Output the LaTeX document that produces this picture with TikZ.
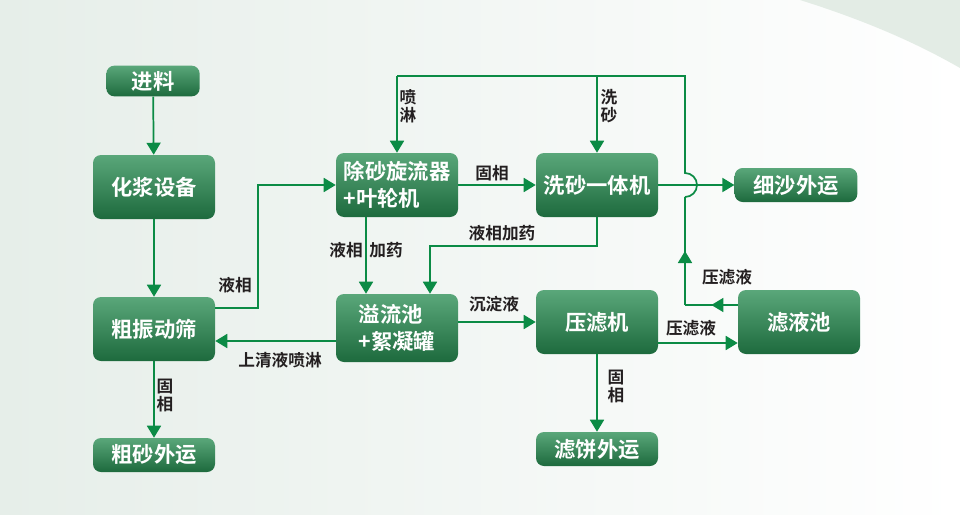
\documentclass[tikz,border=0pt]{standalone}
\usepackage{fontspec}
\setmainfont{Noto Sans CJK SC}[BoldFont={Noto Sans CJK SC Bold}]
\usetikzlibrary{arrows.meta,decorations.markings}

\definecolor{boxtop}{HTML}{5AA77A}
\definecolor{boxbot}{HTML}{1D6A3D}
\definecolor{flowgreen}{HTML}{0B8B45}
\definecolor{bgleft}{HTML}{E6EEE9}
\definecolor{bgcorner}{HTML}{E3ECE5}
\definecolor{labeltext}{HTML}{231F20}

\tikzset{
	box/.style={rounded corners=6pt, top color=boxtop, bottom color=boxbot, text=white,
		font=\bfseries\fontsize{16}{20}\selectfont, align=left, inner sep=0pt},
	bigbox/.style={box, minimum width=91.5pt, minimum height=48pt},
	smallbox/.style={box, minimum width=91.5pt, minimum height=25.5pt},
	line/.style={draw, color=flowgreen, line width=1.3pt},
	flow/.style={line, -{Triangle[width=10.5pt,length=9pt]}},
	midarrow/.style={postaction={decorate}, decoration={markings,
		mark=at position 0.5 with {\arrow{Triangle[width=10.5pt,length=9pt]}}}},
	lbl/.style={text=labeltext, font=\bfseries\fontsize{12.5}{13.5}\selectfont, inner sep=0pt, align=center},
}

\begin{document}
\begin{tikzpicture}[x=0.75pt,y=-0.75pt]
				\useasboundingbox (0,0) rectangle (960,514);
				\shade[left color=bgleft, right color=white] (0,0) rectangle (960,514);
				\fill[bgcorner] (800,0) .. controls (870,22) and (920,45) .. (960,68) -- (960,0) -- cycle;

				\draw (153,81) node[smallbox, minimum width=70pt, minimum height=23pt] (feed) {进料};
				\draw (154,187) node[bigbox] (slurry) {化浆设备};
				\draw (154,329) node[bigbox] (screen) {粗振动筛};
				\draw (154,455) node[smallbox] (coarse) {粗砂外运};
				\draw (397,185) node[bigbox] (cyclone) {除砂旋流器\\+叶轮机};
				\draw (397,328) node[bigbox, minimum height=51pt] (overflow) {溢流池\\+絮凝罐};
				\draw (597,185) node[bigbox] (washer) {洗砂一体机};
				\draw (796,185) node[smallbox, minimum width=92pt] (fine) {细沙外运};
				\draw (597,322) node[bigbox] (press) {压滤机};
				\draw (799,322) node[bigbox] (filtrate) {滤液池};
				\draw (597,449) node[smallbox] (cake) {滤饼外运};

				\coordinate (upl) at (258,308);
				\coordinate (dose) at (430,246);
				\coordinate (retn) at (685,305);
				\coordinate (hopbot) at (685,197);
				\coordinate (topr) at (685,76);
				\coordinate (topl) at (397,76);

				\path
				(feed) edge[flow] (slurry)
				(slurry) edge[flow] (screen)
				(screen) edge[flow] (coarse)
				(cyclone) edge[flow] (washer)
				(washer) edge[flow] (fine)
				(press) edge[flow] (cake)
				;
				\draw[flow] (screen.east |- upl) -- (upl) |- (cyclone.west);
				\draw[flow] ([xshift=-23.25pt]cyclone.south) -- ([xshift=-23.25pt]cyclone.south |- overflow.north);
				\draw[flow] (washer.south) |- (dose) -- (dose |- overflow.north);
				\draw[flow] ([yshift=-9.75pt]overflow.west) -- ([yshift=-9.75pt]overflow.west -| screen.east);
				\draw[flow] (overflow.east |- press) -- (press.west);
				\draw[flow] ([yshift=-15.75pt]press.east) -- ([yshift=-15.75pt]filtrate.west);
				\draw[line, midarrow] (filtrate.west |- retn) -- (retn);
				\draw[line, midarrow] (retn) -- (hopbot);
				\draw[line] (hopbot) arc[start angle=-90, end angle=90, radius=9pt] -- (topr) -- (topl);
				\draw[flow] (topl) -- (cyclone);
				\draw[flow] (washer |- topl) -- (washer);

				\draw (165,396) node[lbl] (lscreen) {固\\相};
				\draw (616,387) node[lbl] (lpress) {固\\相};
				\draw (408,106) node[lbl] (lspray) {喷\\淋};
				\draw (609,106) node[lbl] (lwash) {洗\\砂};
				\draw (492,173) node[lbl] (lsolid) {固相};
				\draw (502,233) node[lbl] (ldose) {液相加药};
				\draw (366,250) node[lbl] (lcyc) {液相\hspace{5pt}加药};
				\draw (235,285) node[lbl] (lliq) {液相};
				\draw (280,360) node[lbl] (lclear) {上清液喷淋};
				\draw (494,304) node[lbl] (lsed) {沉淀液};
				\draw (691,328) node[lbl] (lpf) {压滤液};
				\draw (727,277) node[lbl] (lret) {压滤液};
			\end{tikzpicture}
\end{document}
